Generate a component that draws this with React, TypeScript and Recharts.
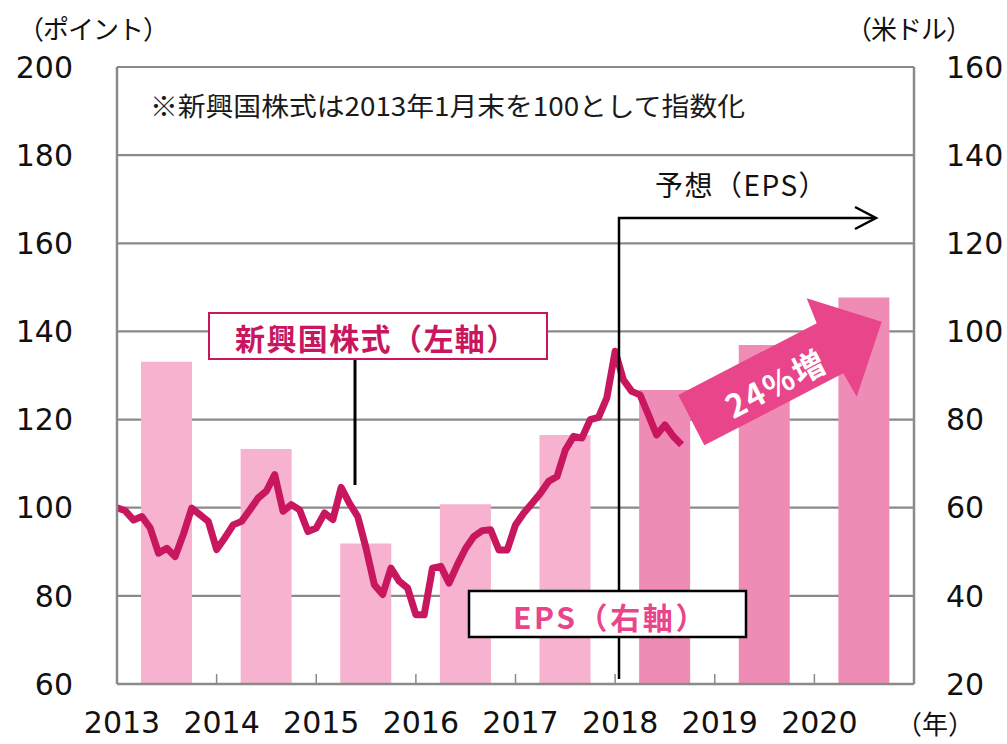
import { ComposedChart, Bar, Line, XAxis, YAxis, CartesianGrid, Cell } from 'recharts'

// EPS per year (right axis, USD); 2018-2020 are forecasts
const years = ['2013', '2014', '2015', '2016', '2017', '2018', '2019', '2020']
const epsValues = [93.1, 73.3, 51.9, 60.8, 76.5, 86.7, 96.9, 107.7]
const forecastYears = ['2018', '2019', '2020']

// emerging market equities, monthly, Jan 2013 = 100 (left axis)
const stockIndex = [
  100, 99.3, 97.2, 98.0, 95.4, 89.7, 90.8, 88.9, 94.0, 99.9, 98.4, 96.9,
  90.5, 93.2, 96.1, 96.9, 99.5, 102.2, 103.8, 107.5, 99.2, 100.7, 99.5, 94.6,
  95.4, 98.8, 97.3, 104.6, 101.0, 98.0, 90.8, 82.5, 80.3, 86.3, 83.3, 81.8,
  75.7, 75.7, 86.3, 86.7, 82.9, 87.1, 90.8, 93.5, 94.8, 95.0, 90.4, 90.4,
  96.1, 98.8, 101.0, 103.3, 106.0, 107.1, 113.1, 116.2, 115.8, 120.0, 120.5, 124.9,
  135.5, 129.0, 126.4, 125.6, 121.1, 116.5, 118.8, 116.2, 114.3,
]

const monthTicks = [0, 12, 24, 36, 48, 60, 72, 84, 96]
const leftTicks = [60, 80, 100, 120, 140, 160, 180, 200]
const rightTicks = [20, 40, 60, 80, 100, 120, 140, 160]

const barData = years.map((year, i) => ({ year, eps: epsValues[i] }))
const lineData = stockIndex.map((v, m) => ({ m, v }))

const FRAME = '#8a8a8a'
const LINE = '#c8175e'
const PINK = '#e8458a'
const BAR_PAST = '#f6b2ce'
const BAR_FCST = '#ef8cb6'
const JP = "'Noto Sans CJK JP', sans-serif"
const NUM = "'DejaVu Sans', sans-serif"

function YearTick(props: any) {
  const { x, y, payload } = props
  const m = payload.value
  const axisY = y - 27
  return (
    <g>
      {m > 0 && m < 96 && (
        <line x1={x} x2={x} y1={axisY} y2={axisY - 10} stroke={FRAME} strokeWidth={1.5} />
      )}
      {m < 96 && (
        <text x={x + 5} y={y + 1} dy="0.71em" textAnchor="middle" fontSize={30} fontFamily={NUM} fill="#111">
          {2013 + m / 12}
        </text>
      )}
    </g>
  )
}

export default function App() {
  const axisTick = { fontSize: 30, fill: '#111', fontFamily: NUM }
  return (
    <div style={{ position: 'relative', width: 1007, height: 744, background: '#fff' }}>
      <style>{'body{margin:0;background:#fff}'}</style>
      <ComposedChart
        width={1007}
        height={744}
        data={barData}
        margin={{ top: 67, right: 33, bottom: 10, left: 37 }}
      >
        <CartesianGrid xAxisId="line" yAxisId="left" vertical={false} stroke={FRAME} strokeWidth={2.2} />
        <XAxis xAxisId="bar" dataKey="year" orientation="top" height={0} hide />
        <XAxis
          xAxisId="line"
          type="number"
          dataKey="m"
          domain={[0, 96]}
          ticks={monthTicks}
          interval={0}
          allowDataOverflow
          height={50}
          tickSize={0}
          tickMargin={27}
          tickLine={false}
          axisLine={{ stroke: FRAME, strokeWidth: 2.5 }}
          tick={<YearTick />}
        />
        <YAxis
          yAxisId="left"
          domain={[60, 200]}
          ticks={leftTicks}
          interval={0}
          width={80}
          tickSize={0}
          tickMargin={44}
          tickLine={false}
          axisLine={{ stroke: FRAME, strokeWidth: 2.5 }}
          tick={axisTick}
        />
        <YAxis
          yAxisId="right"
          orientation="right"
          domain={[20, 160]}
          ticks={rightTicks}
          interval={0}
          width={60}
          tickSize={0}
          tickMargin={32}
          tickLine={false}
          axisLine={{ stroke: FRAME, strokeWidth: 2.5 }}
          tick={axisTick}
        />
        <Bar xAxisId="bar" yAxisId="right" dataKey="eps" barSize={51} isAnimationActive={false}>
          {barData.map((d) => (
            <Cell key={d.year} fill={forecastYears.includes(d.year) ? BAR_FCST : BAR_PAST} />
          ))}
        </Bar>
        <Line
          xAxisId="line"
          yAxisId="left"
          data={lineData}
          dataKey="v"
          type="linear"
          stroke={LINE}
          strokeWidth={7}
          strokeLinejoin="round"
          dot={false}
          activeDot={false}
          isAnimationActive={false}
        />
      </ComposedChart>

      <svg
        width={1007}
        height={744}
        style={{ position: 'absolute', left: 0, top: 0, pointerEvents: 'none' }}
      >
        {/* axis units */}
        <text x={18} y={27} dominantBaseline="central" fontSize={26} fontFamily={JP} fill="#111" letterSpacing={-1}>（ポイント）</text>
        <text x={846} y={27} dominantBaseline="central" fontSize={26} fontFamily={JP} fill="#111" letterSpacing={-1}>（米ドル）</text>
        <text x={896} y={722} dominantBaseline="central" fontSize={26} fontFamily={JP} fill="#111">（年）</text>

        {/* note */}
        <text
          x={150}
          y={104}
          dominantBaseline="central"
          fontSize={26}
          fontFamily={JP}
          fill="#1a1a1a"
          textLength={595}
          lengthAdjust="spacingAndGlyphs"
        >
          ※新興国株式は2013年1月末を100として指数化
        </text>

        {/* equity label */}
        <line x1={355} x2={355} y1={359} y2={485} stroke="#000" strokeWidth={3} />
        <rect x={209} y={313} width={338} height={46} fill="#fff" stroke={LINE} strokeWidth={2} />
        <text
          x={235}
          y={337}
          dominantBaseline="central"
          fontSize={30}
          fontWeight={700}
          fontFamily={JP}
          fill={LINE}
          letterSpacing={1.4}
        >
          新興国株式（左軸）
        </text>

        {/* forecast marker */}
        <polyline points="619,679 619,218 875,218" fill="none" stroke="#000" strokeWidth={2.5} />
        <polyline points="855,207 876,218 855,229" fill="none" stroke="#000" strokeWidth={2.5} />
        <text x={655} y={184} dominantBaseline="central" fontSize={28} fontFamily={JP} fill="#111" letterSpacing={1.5}>
          予想（EPS）
        </text>

        {/* EPS label */}
        <rect x={469} y={591} width={277} height={46} fill="#fff" stroke="#000" strokeWidth={2.5} />
        <text
          x={513}
          y={616}
          dominantBaseline="central"
          fontSize={30}
          fontWeight={700}
          fontFamily={JP}
          fill={PINK}
          letterSpacing={2.6}
        >
          EPS（右軸）
        </text>

        {/* growth arrow */}
        <polygon
          points="678.3,395 816.7,323.3 806.7,298.3 881.7,321.7 856.7,396.7 843.3,373.3 704.3,445.3"
          fill={PINK}
        />
        <text
          x={775}
          y={382}
          textAnchor="middle"
          dominantBaseline="central"
          fontSize={32}
          fontWeight={700}
          fontFamily={JP}
          fill="#fff"
          letterSpacing={2}
          transform="rotate(-27.4 775 382)"
        >
          24%増
        </text>
      </svg>
    </div>
  )
}
